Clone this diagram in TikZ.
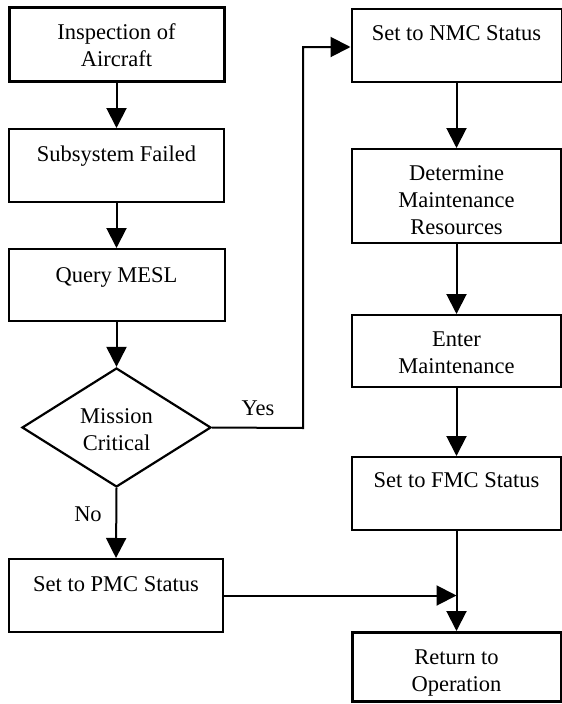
\documentclass[tikz,border=0pt]{standalone}
\usepackage{fontspec}
\setmainfont{Liberation Serif}
\usetikzlibrary{shapes.geometric,arrows.meta}
\begin{document}
\begin{tikzpicture}[x=1pt,y=-1pt,
  box/.style={draw,line width=2pt,inner sep=0pt,minimum width=#1,rectangle},
  thickbox/.style={draw,line width=3pt,inner sep=0pt,rectangle},
  txt/.style={inner sep=0pt,align=center,anchor=base,font=\fontsize{22.5}{27}\selectfont},
  lbl/.style={inner sep=0pt,font=\fontsize{22.5}{27}\selectfont},
  arr/.style={line width=2pt,-{Triangle[length=20pt,width=20pt]}}]
\useasboundingbox (0,0) rectangle (562,704);
% left column
\node[thickbox,minimum width=215pt,minimum height=74pt] (A) at (116.5,44) {};
\node[box=215pt,minimum height=73pt] (B) at (116.5,165.5) {};
\node[box=216pt,minimum height=72pt] (C) at (116.5,285) {};
\node[draw,diamond,line width=2.2pt,inner sep=0pt,minimum width=189pt,minimum height=119pt] (D) at (116.5,427.5) {};
\node[box=214pt,minimum height=73pt] (E) at (116,595.5) {};
% right column
\node[box=210pt,minimum height=73pt] (F) at (456.5,45.5) {};
\node[box=209pt,minimum height=94pt] (G) at (456.5,196) {};
\node[box=209pt,minimum height=72pt] (H) at (456.5,351) {};
\node[box=209pt,minimum height=73pt] (I) at (456.5,493.5) {};
\node[thickbox,minimum width=209pt,minimum height=69pt] (J) at (456.5,667) {};
% texts (base anchor = baseline of the last line)
\node[txt] (tA) at (116.5,66) {Inspection of\\Aircraft};
\node[txt] (tB) at (116.5,161) {Subsystem Failed};
\node[txt] (tC) at (116.5,282) {Query MESL};
\node[txt] (tD) at (116.5,450) {Mission\\Critical};
\node[txt] (tE) at (116,591) {Set to PMC Status};
\node[txt] (tF) at (456.5,40) {Set to NMC Status};
\node[txt] (tG) at (456.5,234) {Determine\\Maintenance\\Resources};
\node[txt] (tH) at (456.5,373) {Enter\\Maintenance};
\node[txt] (tI) at (456.5,487) {Set to FMC Status};
\node[txt] (tJ) at (456.5,691) {Return to\\Operation};
\node[lbl] (yes) at (258,408) {Yes};
\node[lbl] (no) at (88,514) {No};
% connectors
\draw[arr] (A.south) -- (B.north);
\draw[arr] (B.south) -- (C.north);
\draw[arr] (C.south) -- (D.north);
\coordinate (yc) at (303,428);
\coordinate (yt) at (303,47);
\draw[arr] (D.east) -- (yc) -- (yt) -- (yt -| F.west);
\draw[arr] (D.south) -- (E.north);
\draw[arr] (F.south) -- (G.north);
\draw[arr] (G.south) -- (H.north);
\draw[arr] (H.south) -- (I.north);
\draw[arr] (I.south) -- (J.north);
\draw[arr] (E.east) -- (E.east -| I.south);
\end{tikzpicture}
\end{document}
